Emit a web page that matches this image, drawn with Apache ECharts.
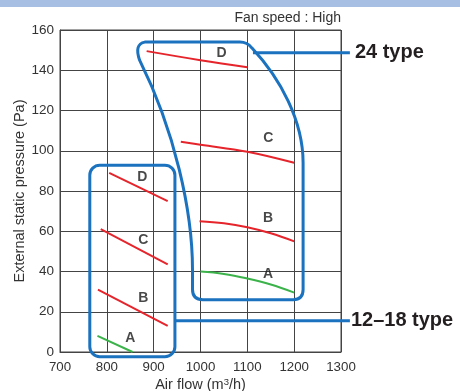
<!DOCTYPE html>
<html><head><meta charset="utf-8">
<script src="https://cdn.jsdelivr.net/npm/echarts@6/dist/echarts.min.js"></script>
<style>html,body{margin:0;padding:0;background:#fff}#c{width:460px;height:391px}</style>
</head><body><div id="c"></div>
<script>
// ---- data ----
const small_D = [[805,89],[930,75]];
const small_C = [[787,61],[930,43.5]];
const small_B = [[781,31],[930,13]];
const small_A = [[780,8],[855,0]];
const big_D = [[885,149.5],[1000,145],[1100,141.5]];
const big_C = [[958,104.5],[1000,103],[1100,99.5],[1200,94]];
const big_B = [[998,65],[1050,64],[1100,62],[1150,59],[1200,55]];
const big_A = [[1000,40],[1050,38.8],[1100,36.5],[1150,33.5],[1200,29.5]];
const curveLabels = [[876,87,'D'],[878,55.6,'C'],[878,26.6,'B'],[850,7.1,'A'],
  [1045,148.7,'D'],[1145,106.5,'C'],[1144,66.3,'B'],[1144,38.7,'A']];
const groupNames = ['24 type','12–18 type'];
// annotation outlines in data units
const box12 = [763.6, 92.8, 945.4, -2.3];
const box24 = [['M',881,154],['L',1084,154],['Q',1100,154,1110,151],
  ['C',1170,136,1219,115,1219,94],['L',1219,31],['Q',1219,26,1198,26],
  ['L',1005,26],['Q',983,26,983,31],['L',983,41],['C',983,70,945,110,870,145],
  ['Q',858,153,881,154],['Z']];
const conn24 = [[1112,148.7],[1319,148.7]];
const conn12 = [[945.4,15.5],[1319,15.5]];

const FONT = '"Liberation Sans", Arial, sans-serif';
const RED = '#e5242b', GREEN = '#3bb34a', BLUE = '#1b72bf';
const chart = echarts.init(document.getElementById('c'));

function lineSeries(d, color, smooth){
  return {type:'line', data:d, showSymbol:false, smooth:smooth?0.4:false,
    lineStyle:{color:color, width:2}, silent:true, z:3};
}

chart.setOption({
  animation:false,
  textStyle:{fontFamily:FONT},
  graphic:[
    {type:'rect', shape:{x:0,y:0,width:460,height:7}, style:{fill:'#a6bfe2'}, z:0},
    {type:'text', right:119, top:11, style:{text:'Fan speed : High', font:'14px '+FONT, fill:'#333', textAlign:'right'}}
  ],
  grid:{left:60, top:30, width:281, height:322, containLabel:false, outerBoundsMode:'none',
    show:true, borderColor:'#444', borderWidth:1, backgroundColor:'transparent'},
  xAxis:{type:'value', min:700, max:1300, interval:100,
    axisLine:{show:true, lineStyle:{color:'#444'}}, axisTick:{show:false},
    axisLabel:{color:'#333', fontSize:13.3, margin:9, fontFamily:FONT, formatter:v=>String(v)},
    splitLine:{show:true, lineStyle:{color:'#444', width:1}},
    name:'{a|Air flow (m}{s|3}{a|/h)}', nameLocation:'middle', nameGap:25, nameMoveOverlap:false,
    nameTextStyle:{rich:{a:{fontSize:14.5, color:'#333', fontFamily:FONT}, s:{fontSize:9.5, color:'#333', fontFamily:FONT, verticalAlign:'top', padding:[0,0,6,0]}}}
  },
  yAxis:{type:'value', min:0, max:160, interval:20,
    axisLine:{show:true, lineStyle:{color:'#444'}}, axisTick:{show:false},
    axisLabel:{color:'#333', fontSize:13.5, margin:6, fontFamily:FONT, formatter:v=>String(v)},
    splitLine:{show:true, lineStyle:{color:'#444', width:1}},
    name:'External static pressure (Pa)', nameLocation:'middle', nameGap:33, nameMoveOverlap:false,
    nameTextStyle:{fontSize:14.5, color:'#333', fontFamily:FONT}
  },
  series:[
    lineSeries(small_D, RED), lineSeries(small_C, RED), lineSeries(small_B, RED), lineSeries(small_A, GREEN),
    lineSeries(big_D, RED, true), lineSeries(big_C, RED, true), lineSeries(big_B, RED, true), lineSeries(big_A, GREEN, true),
    {type:'scatter', data:curveLabels, symbolSize:0, silent:true, z:4,
      label:{show:true, position:'inside', formatter:p=>p.value[2], fontSize:14, fontWeight:'bold', color:'#1a1a1a', fontFamily:FONT}},
    {type:'custom', data:[0], clip:false, silent:true, z:5,
      renderItem:function(params, api){
        const P = (x,y)=>api.coord([x,y]);
        let path = '';
        box24.forEach(seg=>{
          const c = seg[0]; path += c;
          for(let i=1;i<seg.length;i+=2){ const q=P(seg[i],seg[i+1]); path += ' '+q[0].toFixed(1)+' '+q[1].toFixed(1); }
          path += ' ';
        });
        const a = P(box12[0],box12[1]), b = P(box12[2],box12[3]);
        const c1 = P(conn24[0][0],conn24[0][1]), c2 = P(conn24[1][0],conn24[1][1]);
        const d1 = P(conn12[0][0],conn12[0][1]), d2 = P(conn12[1][0],conn12[1][1]);
        const st = {stroke:BLUE, lineWidth:3, fill:null};
        return {type:'group', children:[
          {type:'path', shape:{pathData:path}, style:st},
          {type:'rect', shape:{x:a[0], y:a[1], width:b[0]-a[0], height:b[1]-a[1], r:10}, style:st},
          {type:'line', shape:{x1:c1[0], y1:c1[1], x2:c2[0], y2:c2[1]}, style:{stroke:BLUE, lineWidth:3}},
          {type:'line', shape:{x1:d1[0], y1:d1[1], x2:d2[0], y2:d2[1]}, style:{stroke:BLUE, lineWidth:3}},
          {type:'text', x:c2[0]+5, y:c2[1], style:{text:groupNames[0], font:'bold 20px '+FONT, fill:'#231f20', verticalAlign:'middle'}},
          {type:'text', x:d2[0]+1, y:d2[1], style:{text:groupNames[1], font:'bold 20px '+FONT, fill:'#231f20', verticalAlign:'middle'}}
        ]};
      }}
  ]
});
</script></body></html>
